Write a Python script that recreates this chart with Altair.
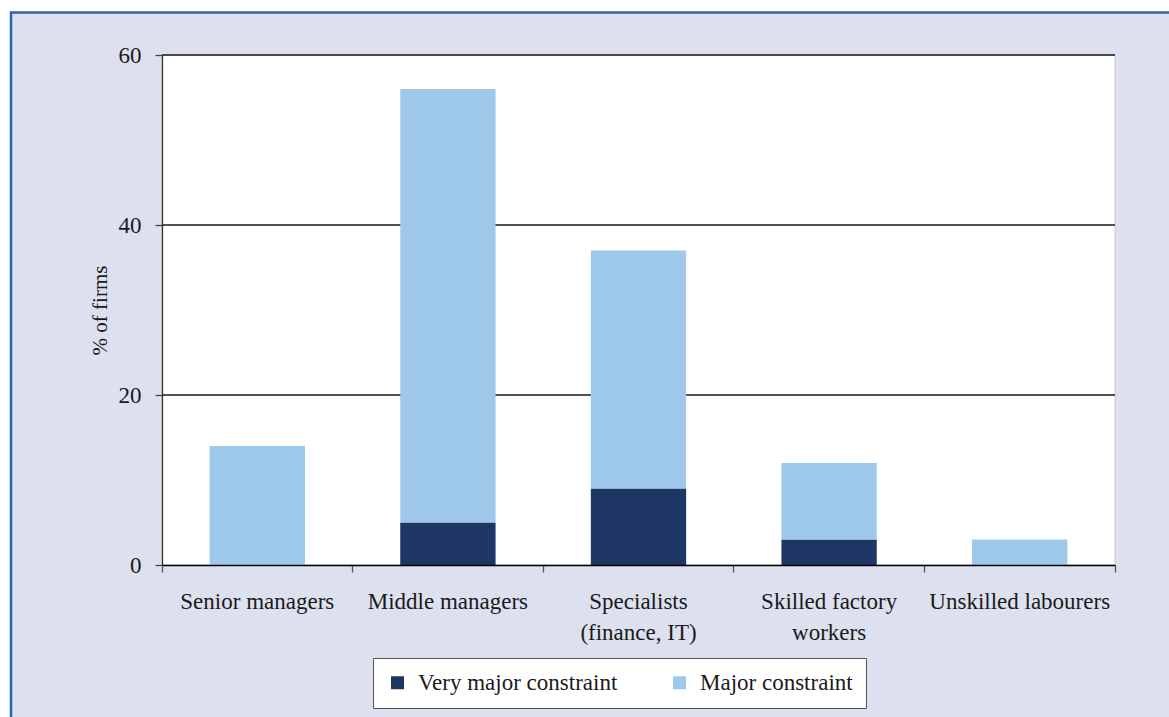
import altair as alt
import pandas as pd

categories = ["Senior managers", "Middle managers", "Specialists\n(finance, IT)",
              "Skilled factory\nworkers", "Unskilled labourers"]
series = ["Very major constraint", "Major constraint"]
very_major = [0, 5, 9, 3, 0]
major = [14, 51, 28, 9, 3]
y_ticks = [0, 20, 40, 60]
grid_values = [20, 40, 60]
colors = ["#1d3664", "#9fc9ea"]

W, H = 953, 510
PAD_L, PAD_T, PAD_R, PAD_B = 162, 55, 54, 152
FONT = "Liberation Serif"

rows = []
for i, c in enumerate(categories):
    rows.append({"cat": c, "series": series[0], "value": very_major[i], "ord": 0})
    rows.append({"cat": c, "series": series[1], "value": major[i], "ord": 1})
df = pd.DataFrame(rows)

one = pd.DataFrame({"a": [0]})

y_scale = alt.Scale(domain=[0, 60], nice=False)


def y_axis():
    return alt.Axis(title="% of firms", values=y_ticks, grid=False,
                    labelFont=FONT, labelFontSize=23, labelColor="#1a1a1a",
                    labelPadding=14, ticks=True, tickSize=7, tickColor="#444444",
                    tickWidth=1.3, domain=True, domainColor="#333333", domainWidth=1.3,
                    titleFont=FONT, titleFontSize=21, titleFontWeight="normal",
                    titleColor="#1a1a1a", titlePadding=8, zindex=1)


frame = alt.Chart(one).mark_rect(
    fill="#dde0ee", stroke="#2c66ae", strokeWidth=2.5
).encode(
    x=alt.value(11 - PAD_L), y=alt.value(12.5 - PAD_T),
    x2=alt.value(1169 - PAD_L + 30), y2=alt.value(717 - PAD_T + 30)
)

plot_bg = alt.Chart(one).mark_rect(
    fill="white", stroke="#c8c8c8", strokeWidth=1
).encode(
    x=alt.value(0), x2=alt.value(W), y=alt.value(0), y2=alt.value(H)
)

grid = alt.Chart(pd.DataFrame({"v": grid_values})).mark_rule(
    color="#1a1a1a", strokeWidth=1.3
).encode(
    y=alt.Y("v:Q", scale=y_scale, axis=y_axis(), title="% of firms")
)

bars = alt.Chart(df).mark_bar(width=alt.RelativeBandSize(0.5)).encode(
    x=alt.X("cat:N", sort=categories,
            scale=alt.Scale(paddingInner=0, paddingOuter=0),
            axis=alt.Axis(title=None, labelAngle=0, bandPosition=1, tickExtra=True,
                          labelExpr="split(datum.label, '\\n')",
                          labelFont=FONT, labelFontSize=23, labelColor="#1a1a1a",
                          labelPadding=18, labelLineHeight=31, labelBaseline="top",
                          labelLimit=0,
                          ticks=True, tickSize=7, tickColor="#555555", tickWidth=1.3,
                          domain=True, domainColor="#000000", domainWidth=1.5,
                          zindex=1)),
    y=alt.Y("value:Q", stack="zero", scale=y_scale, axis=y_axis(),
            title="% of firms"),
    color=alt.Color("series:N", sort=series,
                    scale=alt.Scale(domain=series, range=colors),
                    legend=alt.Legend(title=None, orient="none", direction="horizontal",
                                      columns=2, legendX=211, legendY=603,
                                      symbolType="square", symbolSize=169,
                                      symbolStrokeWidth=0, labelFont=FONT,
                                      labelFontSize=23, labelColor="#1a1a1a",
                                      labelLimit=0,
                                      labelOffset=9, columnPadding=50,
                                      padding=13, strokeColor="#555555",
                                      fillColor="white")),
    order=alt.Order("ord:Q", sort="ascending")
)

chart = alt.layer(frame, plot_bg, grid, bars).properties(
    width=W, height=H,
    background="white",
    autosize=alt.AutoSizeParams(type="none"),
    padding={"left": PAD_L, "top": PAD_T, "right": PAD_R, "bottom": PAD_B}
).configure_view(stroke=None)

chart.save("out.html", embed_options={"renderer": "svg", "actions": False})
